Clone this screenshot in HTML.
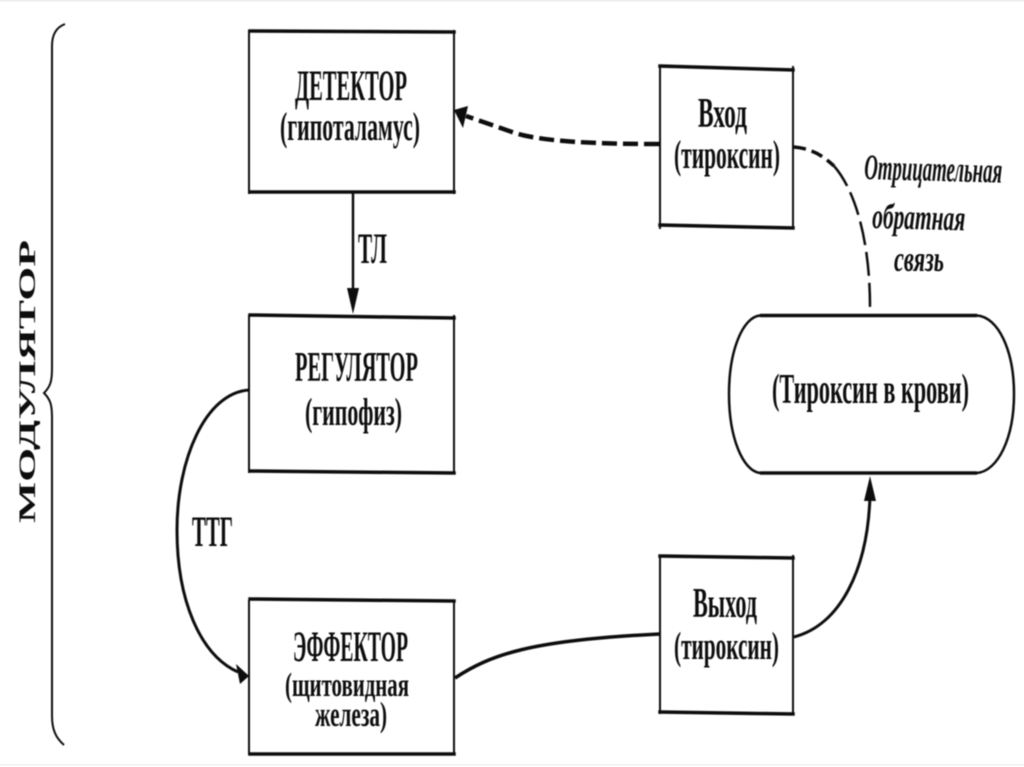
<!DOCTYPE html>
<html lang="ru">
<head>
<meta charset="utf-8">
<title>Схема</title>
<style>
html,body{margin:0;padding:0;background:#fff;width:1024px;height:767px;overflow:hidden}
svg{display:block}
text{font-family:"Liberation Serif","DejaVu Serif",serif;fill:#111;font-weight:bold;stroke:none}
.i{font-style:italic}
</style>
</head>
<body>
<svg width="1024" height="767" viewBox="0 0 1024 767" xmlns="http://www.w3.org/2000/svg">
<defs><filter id="b" x="-2%" y="-2%" width="104%" height="104%"><feGaussianBlur stdDeviation="0.55"/></filter></defs>
<rect width="1024" height="767" fill="#fff"/>
<rect x="0" y="0" width="1024" height="1.5" fill="#eee"/>
<rect x="0" y="764" width="1024" height="1.5" fill="#f2f2f2"/>
<g filter="url(#b)">
  <!-- boxes -->
  <g fill="none" stroke="#111" stroke-linecap="square">
    <g stroke-width="2"><path d="M249 31V193M454 31V193"/><path d="M249 316V472M454 316V472"/><path d="M249 601V754M454 601V754"/><path d="M660 67V228M793 67V228"/><path d="M660 556V713M793 556V713"/></g>
    <g stroke-width="3.5">
      <path d="M250 31L454 32"/><path d="M250 192H454"/>
      <path d="M250 315L454 318"/><path d="M250 471L454 473"/>
      <path d="M250 599L454 601"/><path d="M250 754H454"/>
      <path d="M660 66L793 70"/><path d="M660 225L793 228"/>
      <path d="M660 556L793 558"/><path d="M660 712L793 714"/>
    </g>
  </g>
  <!-- pill -->
  <path d="M760 315.500H977C998 317 1014 350 1014 394C1014 438 998 471 977 473H760C743 471 729 438 729 394C729 350 743 317 760 315.500Z" fill="none" stroke="#111" stroke-width="2.500"/>
  <path d="M760 315.500H977M760 473H977" fill="none" stroke="#111" stroke-width="3.500"/>
  <!-- brace -->
  <path d="M65 24C57 27 52 34 52 46V368C52 380 51 386 44 393C51 400 52 406 52 418V716C52 730 56 738 64 745" fill="none" stroke="#111" stroke-width="2"/>
  <!-- connectors -->
  <g fill="none" stroke="#111">
    <path d="M353 193V295" stroke-width="2.500"/>
    <path d="M249 390C205 393 177 460 177 530C177 600 200 655 238 672" stroke-width="3"/>
    <path d="M455 678C490 655 530 640 660 634" stroke-width="3.500"/>
    <path d="M794 637C840 625 868 570 870 495" stroke-width="3"/>
    <path d="M659 144C600 144 540 142 512 132L466 116" stroke-width="4.500" stroke-dasharray="15 6"/>
    <path d="M794 147C815 149 825 158 834 166" stroke-width="3.500" stroke-dasharray="12 6"/>
    <path d="M834 166C855 190 870 240 870 307" stroke-width="2.500" stroke-dasharray="24 7"/>
  </g>
  <g fill="#111">
    <path d="M353 314L347 288H359Z"/>
    <path d="M249 676L236 664L240 684Z"/>
    <path d="M870 476L864 501H876Z"/>
    <path d="M454 110L468 106L463 128Z"/>
  </g>
  <!-- labels -->
  <text x="295" y="100" font-size="43" textLength="112" lengthAdjust="spacingAndGlyphs">ДЕТЕКТОР</text>
  <text x="280" y="140" font-size="40" textLength="140" lengthAdjust="spacingAndGlyphs">(гипоталамус)</text>
  <text x="358" y="263" font-size="43" textLength="29" lengthAdjust="spacingAndGlyphs">ТЛ</text>
  <text x="295" y="381" font-size="42" textLength="123" lengthAdjust="spacingAndGlyphs">РЕГУЛЯТОР</text>
  <text x="305" y="425" font-size="39" textLength="97" lengthAdjust="spacingAndGlyphs">(гипофиз)</text>
  <text x="192" y="546" font-size="43" textLength="41" lengthAdjust="spacingAndGlyphs">ТТГ</text>
  <text x="293" y="661" font-size="43" textLength="115" lengthAdjust="spacingAndGlyphs">ЭФФЕКТОР</text>
  <text x="285" y="696" font-size="34" textLength="124" lengthAdjust="spacingAndGlyphs">(щитовидная</text>
  <text x="315" y="726" font-size="35" textLength="72" lengthAdjust="spacingAndGlyphs">железа)</text>
  <text x="698" y="127" font-size="42" textLength="49" lengthAdjust="spacingAndGlyphs">Вход</text>
  <text x="674" y="168" font-size="40" textLength="106" lengthAdjust="spacingAndGlyphs">(тироксин)</text>
  <text x="693" y="617" font-size="42" textLength="64" lengthAdjust="spacingAndGlyphs">Выход</text>
  <text x="674" y="659" font-size="39" textLength="105" lengthAdjust="spacingAndGlyphs">(тироксин)</text>
  <text x="772" y="403" font-size="42" textLength="197" lengthAdjust="spacingAndGlyphs">(Тироксин в крови)</text>
  <text class="i" x="864" y="179" font-size="36" textLength="138" lengthAdjust="spacingAndGlyphs" transform="rotate(1.500 864 179)">Отрицательная</text>
  <text class="i" x="872" y="228" font-size="36" textLength="93" lengthAdjust="spacingAndGlyphs" transform="rotate(1.500 872 228)">обратная</text>
  <text class="i" x="894" y="271" font-size="36" textLength="50" lengthAdjust="spacingAndGlyphs">связь</text>
  <text x="0" y="0" font-size="23" textLength="283" lengthAdjust="spacingAndGlyphs" transform="translate(35 523) rotate(-90)">МОДУЛЯТОР</text>
</g>
</svg>
</body>
</html>
